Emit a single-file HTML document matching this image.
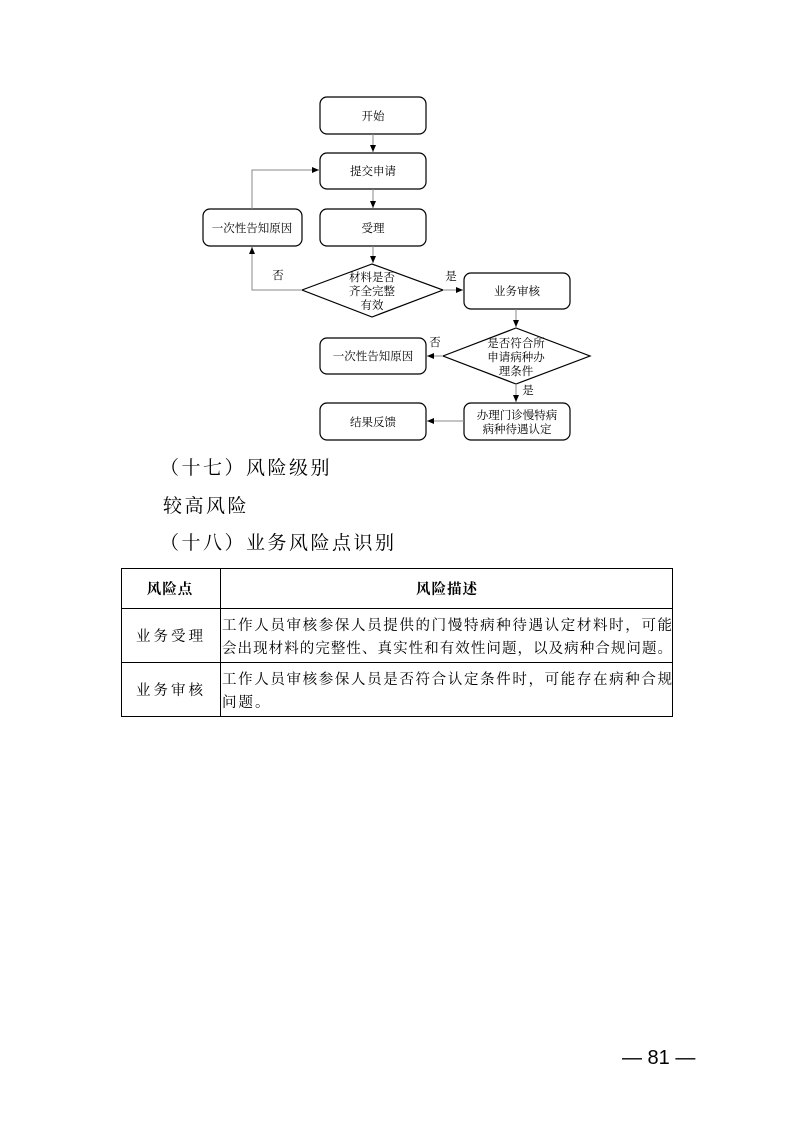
<!DOCTYPE html>
<html><head><meta charset="utf-8"><style>
body{margin:0;background:#fff;}
svg{display:block;}
text{font-family:"Liberation Serif","Noto Serif CJK SC","Noto Sans CJK SC",serif;fill:#000;}
</style></head><body>
<svg width="793" height="1122" viewBox="0 0 793 1122" xmlns="http://www.w3.org/2000/svg">
<defs><marker id="a" markerWidth="8" markerHeight="8" refX="7" refY="4" orient="auto" markerUnits="userSpaceOnUse"><path d="M0,1 L7,4 L0,7 z" fill="#000"/></marker></defs>
<g fill="#fff" stroke="#000" stroke-width="1.2">
<rect x="320" y="97" width="106" height="37" rx="7"/>
<rect x="320" y="153" width="106" height="36" rx="7"/>
<rect x="320" y="209" width="106" height="37" rx="7"/>
<rect x="203" y="209" width="99" height="37" rx="7"/>
<polygon points="302,290 372,264 443,290 372,317"/>
<rect x="464" y="273" width="106" height="36" rx="7"/>
<polygon points="443,356 516,328 590,356 516,384"/>
<rect x="320" y="338" width="106" height="36" rx="7"/>
<rect x="320" y="403" width="106" height="37" rx="7"/>
<rect x="464" y="403" width="106" height="37" rx="7"/>
</g>
<g fill="none" stroke="#888" stroke-width="1" marker-end="url(#a)">
<line x1="373" y1="134" x2="373" y2="152"/>
<line x1="373" y1="189" x2="373" y2="208"/>
<line x1="373" y1="246" x2="373" y2="263"/>
<polyline points="302,290 252,290 252,247"/>
<polyline points="252,209 252,170 319,170"/>
<line x1="443" y1="290" x2="463" y2="290"/>
<line x1="516" y1="309" x2="516" y2="327"/>
<line x1="443" y1="356" x2="427" y2="356"/>
<line x1="516" y1="384" x2="516" y2="402"/>
<line x1="464" y1="421" x2="427" y2="421"/>
</g>
<g font-size="11.5" text-anchor="middle">
<text x="373" y="120">开始</text>
<text x="373" y="175">提交申请</text>
<text x="373" y="232">受理</text>
<text x="252" y="232">一次性告知原因</text>
<text x="372" y="281">材料是否</text>
<text x="372" y="295">齐全完整</text>
<text x="372" y="309">有效</text>
<text x="517" y="295">业务审核</text>
<text x="516" y="347">是否符合所</text>
<text x="516" y="361">申请病种办</text>
<text x="516" y="375">理条件</text>
<text x="373" y="360">一次性告知原因</text>
<text x="373" y="426">结果反馈</text>
<text x="517" y="419">办理门诊慢特病</text>
<text x="517" y="433">病种待遇认定</text>
<text x="278" y="279">否</text>
<text x="451" y="280">是</text>
<text x="435" y="346">否</text>
<text x="528" y="394">是</text>
</g>
<g font-size="19" letter-spacing="2.5">
<text x="160" y="474">（十七）风险级别</text>
<text x="163" y="512">较高风险</text>
<text x="160" y="549">（十八）业务风险点识别</text>
</g>
<g stroke="#000" stroke-width="1" fill="none">
<rect x="121.5" y="568.5" width="551" height="148"/>
<line x1="121" y1="608.5" x2="673" y2="608.5"/>
<line x1="121" y1="662.5" x2="673" y2="662.5"/>
<line x1="220.5" y1="568" x2="220.5" y2="717"/>
</g>
<g font-size="14.5">
<text x="170" y="594" text-anchor="middle" font-weight="bold" letter-spacing="1">风险点</text>
<text x="447" y="594" text-anchor="middle" font-weight="bold" letter-spacing="1">风险描述</text>
<text x="171" y="641" text-anchor="middle" letter-spacing="3">业务受理</text>
<text x="171" y="695" text-anchor="middle" letter-spacing="3">业务审核</text>
<text x="222" y="630" textLength="450" lengthAdjust="spacing">工作人员审核参保人员提供的门慢特病种待遇认定材料时，可能</text>
<text x="222" y="653" textLength="450" lengthAdjust="spacing">会出现材料的完整性、真实性和有效性问题，以及病种合规问题。</text>
<text x="222" y="684" textLength="450" lengthAdjust="spacing">工作人员审核参保人员是否符合认定条件时，可能存在病种合规</text>
<text x="222" y="707" letter-spacing="2">问题。</text>
</g>
<text x="622" y="1064" font-size="20" style="font-family:'Liberation Sans',sans-serif">— 81 —</text>
</svg>
</body></html>
